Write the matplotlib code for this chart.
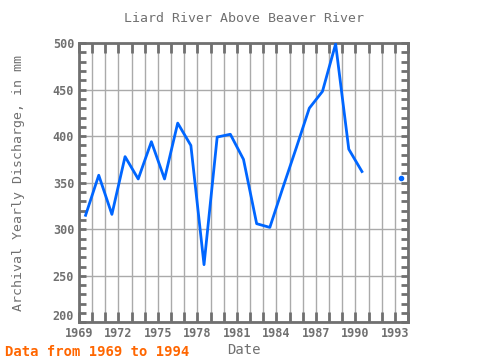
import numpy as np
import matplotlib
matplotlib.use("Agg")
import matplotlib.pyplot as plt
from matplotlib.ticker import MultipleLocator, FuncFormatter

# yearly values, plotted at mid-year
years = [1969, 1970, 1971, 1972, 1973, 1974, 1975, 1976, 1977, 1978, 1979,
         1980, 1981, 1982, 1983, 1984, 1985, 1986, 1987, 1988, 1989, 1990,
         1991, 1992, 1993]
discharge = [315, 358, 316, 378, 354, 394, 354, 414, 390, 262, 399,
             402, 375, 306, 302, 345, 387, 430, 448, 499, 386, 362,
             np.nan, np.nan, 355]
xticks = list(range(1969, 1994, 3))
ymin, ymax = 200, 500

x = np.array(years) + 0.5
y = np.array(discharge, dtype=float)

gray = "#707070"
plt.rcParams['font.family'] = ['DejaVu Sans Mono']
plt.rcParams['font.weight'] = 'bold'

fig = plt.figure(figsize=(4.8, 3.6), dpi=100)
ax = fig.add_axes([79 / 480, 1 - 322.4 / 360, 329 / 480, 279.4 / 360])

ax.plot(x, y, color="#0066ff", lw=2, zorder=3)
# isolated point
ax.plot(x[-1], y[-1], 'o', color="#0066ff", ms=3, zorder=3)

ax.set_xlim(1969, 1994)
ax.set_ylim(ymin, ymax)
ax.set_xticks(xticks)
ax.xaxis.set_minor_locator(MultipleLocator(1))
ax.yaxis.set_major_locator(MultipleLocator(50))
ax.yaxis.set_minor_locator(MultipleLocator(10))
# bottom label is drawn separately, a bit higher, so it clears 1969
ax.yaxis.set_major_formatter(FuncFormatter(lambda v, p: '' if v == ymin else f"{v:.0f}"))

ax.grid(True, which='major', axis='y', color='#aaaaaa', lw=1)
ax.grid(True, which='both', axis='x', color='#aaaaaa', lw=1)
ax.set_axisbelow(True)

ax.tick_params(which='both', direction='in', top=True, right=True,
               color=gray, width=2, labelsize=8.5, labelcolor=gray)
ax.tick_params(axis='x', which='both', length=7)
ax.tick_params(axis='y', which='both', length=5)
for s in ax.spines.values():
    s.set_color(gray)
    s.set_linewidth(2)

ax.annotate(f"{ymin}", xy=(0, ymin), xycoords=('axes fraction', 'data'),
            xytext=(-3.5, 4), textcoords='offset points', ha='right', va='center',
            color=gray, fontsize=8.5)

ax.set_title("Liard River Above Beaver River", color=gray, fontsize=9.5, pad=15)
ax.set_xlabel("Date", color=gray, fontsize=10, labelpad=2)
ax.set_ylabel("Archival Yearly Discharge, in mm", color=gray, fontsize=9.5)
ax.yaxis.set_label_coords(-0.164, 0.5)
fig.text(5 / 480, 1 - 352 / 360, "Data from 1969 to 1994", color="#ff6600",
         fontsize=10, va='center', ha='left')

fig.savefig("out.png", dpi=100)
